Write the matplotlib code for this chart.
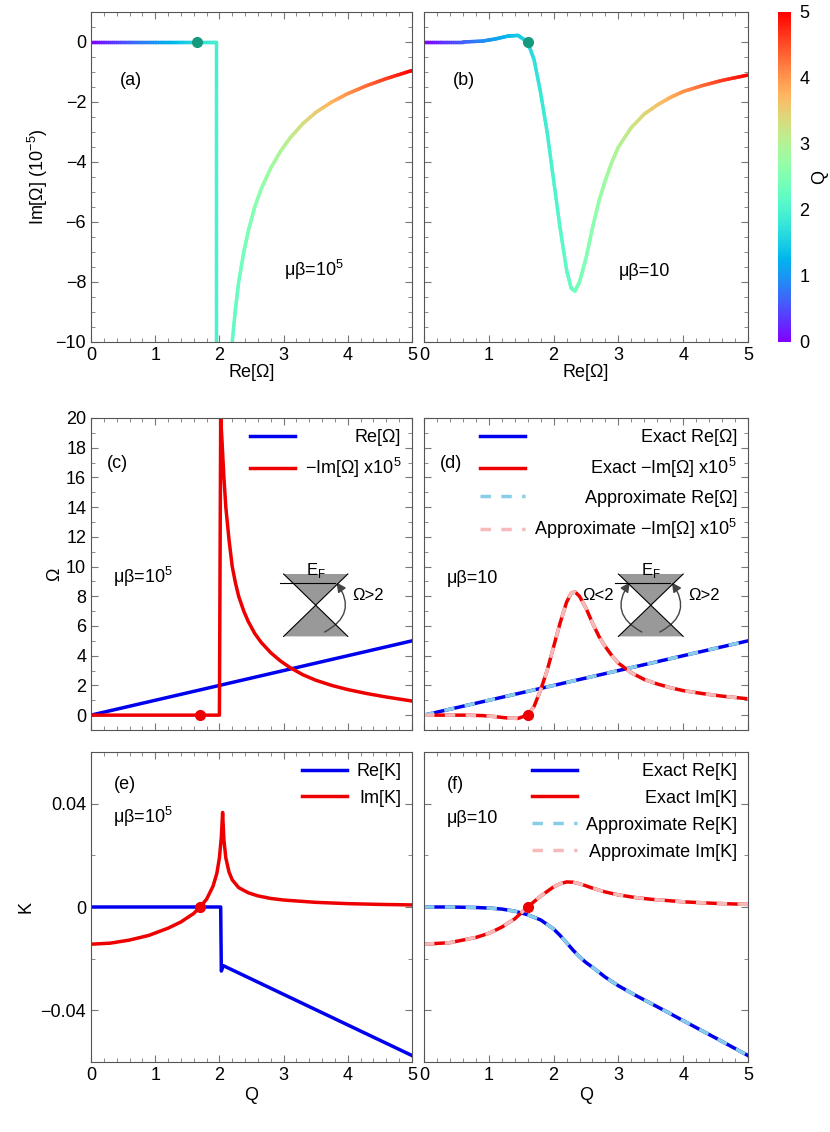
import numpy as np
import matplotlib.pyplot as plt
from matplotlib.collections import LineCollection
from matplotlib.patches import Polygon, FancyArrowPatch
from matplotlib.ticker import MultipleLocator

plt.rcParams['font.family'] = 'Liberation Sans'
plt.rcParams['font.size'] = 13
plt.rcParams['mathtext.fontset'] = 'custom'
plt.rcParams['mathtext.rm'] = 'Liberation Sans'

# panel (a): mu*beta = 1e5, Im[Omega] (1e-5) vs Re[Omega], coloured by Q
q_a = [0, 0.3, 0.6, 0.9, 1.2, 1.5, 1.8, 1.95, 1.96, 1.97]
re_a = [0, 0.3, 0.6, 0.9, 1.2, 1.5, 1.8, 1.95, 1.95, 1.95]
im_a = [0, 0, 0, 0, 0, 0, 0, 0, -5, -10]
q_a2 = [2.2, 2.25, 2.3, 2.38, 2.45, 2.55, 2.65, 2.8, 2.95, 3.1, 3.3, 3.5, 3.75, 4.0, 4.3, 4.6, 5.0]
re_a2 = q_a2
im_a2 = [-10, -8.9, -8.0, -7.0, -6.3, -5.5, -4.9, -4.2, -3.65, -3.2, -2.72, -2.35, -2.0, -1.72, -1.45, -1.22, -0.95]

# panel (b): mu*beta = 10
q_b = [0, 0.3, 0.6, 0.9, 1.1, 1.3, 1.45, 1.6, 1.7, 1.8, 1.9, 2.0, 2.1, 2.2, 2.27, 2.33, 2.4, 2.5, 2.6, 2.7, 2.8, 2.9, 3.0,
       3.2, 3.4, 3.6, 3.8, 4.0, 4.3, 4.6, 5.0]
im_b = [0, 0, 0, 0.03, 0.1, 0.2, 0.22, 0, -0.6, -1.7, -3.0, -4.6, -6.2, -7.6, -8.2, -8.3, -8.0, -7.2, -6.2, -5.3, -4.6,
        -4.0, -3.5, -2.85, -2.4, -2.1, -1.85, -1.65, -1.45, -1.28, -1.1]

# panel (c)
q_c = [0, 1, 2, 3, 4, 5]
re_c = [0, 1, 2, 3, 4, 5]
q_cim = [0, 0.5, 1.0, 1.5, 2.0, 2.02, 2.04, 2.07, 2.1, 2.15, 2.2, 2.25, 2.3, 2.38, 2.45, 2.55, 2.65, 2.8, 2.95, 3.1, 3.3,
         3.5, 3.75, 4.0, 4.3, 4.6, 5.0]
mim_c = [0, 0, 0, 0, 0, 20, 18.5, 16, 14, 11.8, 10, 8.9, 8.0, 7.0, 6.3, 5.5, 4.9, 4.2, 3.65, 3.2, 2.72, 2.35, 2.0, 1.72,
         1.45, 1.22, 0.95]

# panel (d)
mim_d = [-v for v in im_b]

# panel (e)
q_eim = [0, 0.3, 0.6, 0.9, 1.2, 1.4, 1.6, 1.7, 1.8, 1.9, 1.96, 2.0, 2.03, 2.05, 2.07, 2.1, 2.15, 2.2, 2.3, 2.45, 2.6, 2.8,
         3.0, 3.5, 4.0, 4.5, 5.0]
imk_e = [-0.0144, -0.014, -0.0128, -0.011, -0.0082, -0.0058, -0.0025, 0, 0.003, 0.008, 0.013, 0.019, 0.027, 0.0366,
         0.026, 0.019, 0.0135, 0.0105, 0.0075, 0.0055, 0.0043, 0.0033, 0.0027, 0.0018, 0.0013, 0.001, 0.0008]
q_ere = [0, 1.0, 2.02, 2.03, 2.06, 5.0]
rek_e = [0, 0, 0, -0.0248, -0.0227, -0.0575]

# panel (f)
q_f = [0, 0.4, 0.8, 1.0, 1.2, 1.4, 1.6, 1.8, 2.0, 2.1, 2.2, 2.3, 2.4, 2.5, 2.6, 2.8, 3.0, 3.25, 3.5, 3.75, 4.0, 4.5, 5.0]
rek_f = [0, 0, -0.0002, -0.0004, -0.0008, -0.0016, -0.003, -0.005, -0.0085, -0.011, -0.0138, -0.0167, -0.0193, -0.0215,
         -0.0233, -0.0272, -0.0305, -0.034, -0.0373, -0.0406, -0.044, -0.0507, -0.0575]
imk_f = [-0.0144, -0.0138, -0.0118, -0.0102, -0.0078, -0.0046, 0, 0.0042, 0.0078, 0.009, 0.0097, 0.0096, 0.009, 0.0082,
         0.0073, 0.0058, 0.0047, 0.0037, 0.003, 0.0025, 0.002, 0.0014, 0.001]

cmap = plt.get_cmap('rainbow')
norm = plt.Normalize(0, 5)

fig = plt.figure(figsize=(8.3, 11.32), dpi=100)
W, H = 830, 1132
def ax_at(x0, y0, x1, y1):
    return fig.add_axes([x0 / W, 1 - y1 / H, (x1 - x0) / W, (y1 - y0) / H])

axa = ax_at(91, 12, 412, 342)
axb = ax_at(424, 12, 748, 342)
cax = ax_at(778, 12, 791, 342)
axc = ax_at(91, 418, 412, 730)
axd = ax_at(424, 418, 748, 730)
axe = ax_at(91, 752, 412, 1062)
axf = ax_at(424, 752, 748, 1062)

def colored(ax, x, y, q):
    pts = np.column_stack([x, y])
    segs = np.stack([pts[:-1], pts[1:]], axis=1)
    # split each segment so the colour changes smoothly along it
    sub = []
    cols = []
    for (p0, p1), q0, q1 in zip(segs, q[:-1], q[1:]):
        for t in np.linspace(0, 1, 11)[:-1]:
            a = p0 + (p1 - p0) * t
            b = p0 + (p1 - p0) * (t + 0.1)
            sub.append([a, b])
            cols.append(q0 + (q1 - q0) * (t + 0.05))
    lc = LineCollection(sub, cmap=cmap, norm=norm, linewidth=2.5, capstyle='round')
    lc.set_array(np.array(cols))
    ax.add_collection(lc)

colored(axa, re_a, im_a, q_a)
colored(axa, re_a2, im_a2, q_a2)
axa.plot([1.65], [0], 'o', color='#159a7e', ms=7)
colored(axb, q_b, im_b, q_b)
axb.plot([1.6], [0], 'o', color='#159a7e', ms=7)
for ax, lab, mb in [(axa, '(a)', 'μβ=10$^5$'), (axb, '(b)', 'μβ=10')]:
    ax.set_xlim(0, 5)
    ax.set_ylim(-10, 1)
    ax.set_xticks(range(6))
    ax.set_yticks(range(-10, 1, 2))
    ax.yaxis.set_minor_locator(MultipleLocator(0.5))
    ax.set_xlabel('Re[Ω]', labelpad=0)
    ax.text(0.09, 0.78, lab, transform=ax.transAxes)
    ax.text(0.6, 0.2, mb, transform=ax.transAxes)
axa.set_ylabel('Im[Ω] (10$^{-5}$)')
axb.set_yticklabels([])
sm = plt.cm.ScalarMappable(cmap=cmap, norm=norm)
cb = fig.colorbar(sm, cax=cax)
cb.set_label('Q', labelpad=1)
cb.outline.set_linewidth(0)
cax.tick_params(length=0, pad=6)

def cone(ax, x0, y0, arrows):
    tr = ax.transAxes
    w, h = 0.1, 0.1
    ax.add_patch(Polygon([[x0 - w, y0 + h], [x0 + w, y0 + h], [x0, y0]], closed=True, transform=tr, color='#999999', lw=0))
    ax.add_patch(Polygon([[x0 - w, y0 - h], [x0 + w, y0 - h], [x0, y0]], closed=True, transform=tr, color='#999999', lw=0))
    ax.plot([x0 - w, x0 + w], [y0 + h, y0 - h], color='k', lw=0.8, transform=tr)
    ax.plot([x0 + w, x0 - w], [y0 + h, y0 - h], color='k', lw=0.8, transform=tr)
    ax.plot([x0 - 0.11, x0 + 0.06], [y0 + 0.072, y0 + 0.072], color='k', lw=0.8, transform=tr)
    ax.text(x0, y0 + 0.08, 'E$_\\mathrm{F}$', transform=tr, ha='center', va='bottom', fontsize=12)
    for side in arrows:
        s = 1 if side == 'r' else -1
        ax.add_patch(FancyArrowPatch((x0 + s * 0.02, y0 - 0.09), (x0 + s * 0.06, y0 + 0.08), transform=tr,
                                     connectionstyle='arc3,rad=%.2f' % (0.6 * s), arrowstyle='-|>',
                                     mutation_scale=14, color='#444444', lw=1))
        ax.text(x0 + s * 0.115, y0 + 0.03, 'Ω>2' if side == 'r' else 'Ω<2', transform=tr,
                ha='left' if side == 'r' else 'right', va='center', fontsize=12)

def right_legend(ax):
    leg = ax.legend(loc='upper right', frameon=False, handlelength=2.5, borderaxespad=0.2, labelspacing=0.55,
                    handletextpad=0.5)
    fig.canvas.draw()
    ws = [t.get_window_extent().width for t in leg.get_texts()]
    mw = max(ws)
    for t, w in zip(leg.get_texts(), ws):
        t.set_position((mw - w, 0))

axc.plot(q_c, re_c, color='#0000ee', lw=2.5, label='Re[Ω]')
axc.plot(q_cim, mim_c, color='#ee0000', lw=2.5, label='−Im[Ω] x10$^5$')
axc.plot([1.7], [0], 'o', color='#ee0000', ms=7)
cone(axc, 0.7, 0.4, ['r'])
axd.plot(q_c, re_c, color='#0000ee', lw=2.5, label='Exact Re[Ω]')
axd.plot(q_b, mim_d, color='#ee0000', lw=2.5, label='Exact −Im[Ω] x10$^5$')
axd.plot(q_c, re_c, color='#87cde8', lw=2.5, ls=(0, (3, 3)), label='Approximate Re[Ω]')
axd.plot(q_b, mim_d, color='#f6baba', lw=2.5, ls=(0, (3, 3)), label='Approximate −Im[Ω] x10$^5$')
axd.plot([1.6], [0], 'o', color='#ee0000', ms=7)
cone(axd, 0.7, 0.4, ['l', 'r'])
for ax, lab, mb in [(axc, '(c)', 'μβ=10$^5$'), (axd, '(d)', 'μβ=10')]:
    ax.set_xlim(0, 5)
    ax.set_ylim(-1, 20)
    ax.set_xticks(range(6))
    ax.set_xticklabels([])
    ax.set_yticks(range(0, 21, 2))
    ax.yaxis.set_minor_locator(MultipleLocator(1))
    ax.text(0.05, 0.84, lab, transform=ax.transAxes)
    ax.text(0.07, 0.47, mb, transform=ax.transAxes)
axc.set_ylabel('Ω', labelpad=2)
axd.set_yticklabels([])

axe.plot(q_ere, rek_e, color='#0000ee', lw=2.5, label='Re[K]')
axe.plot(q_eim, imk_e, color='#ee0000', lw=2.5, label='Im[K]')
axe.plot([1.7], [0], 'o', color='#ee0000', ms=7)
axf.plot(q_f, rek_f, color='#0000ee', lw=2.5, label='Exact Re[K]')
axf.plot(q_f, imk_f, color='#ee0000', lw=2.5, label='Exact Im[K]')
axf.plot(q_f, rek_f, color='#87cde8', lw=2.5, ls=(0, (3, 3)), label='Approximate Re[K]')
axf.plot(q_f, imk_f, color='#f6baba', lw=2.5, ls=(0, (3, 3)), label='Approximate Im[K]')
axf.plot([1.6], [0], 'o', color='#ee0000', ms=7)
for ax, lab, mb in [(axe, '(e)', 'μβ=10$^5$'), (axf, '(f)', 'μβ=10')]:
    ax.set_xlim(0, 5)
    ax.set_ylim(-0.06, 0.06)
    ax.set_xticks(range(6))
    ax.set_yticks([-0.04, 0, 0.04])
    ax.yaxis.set_minor_locator(MultipleLocator(0.02))
    ax.set_xlabel('Q', labelpad=2)
    ax.text(0.07, 0.88, lab, transform=ax.transAxes)
    ax.text(0.07, 0.77, mb, transform=ax.transAxes)
axe.set_yticklabels(['\u22120.04', '0', '0.04'])
axe.set_ylabel('K')
axf.set_yticklabels([])

for ax in [axa, axb, axc, axd, axe, axf]:
    ax.xaxis.set_minor_locator(MultipleLocator(0.2))
    ax.tick_params(which='both', direction='in', top=True, right=True, length=5, color='#777777')
    ax.tick_params(which='minor', length=3)
    for sp in ax.spines.values():
        sp.set_color('#555555')

for ax in [axc, axd, axe, axf]:
    right_legend(ax)

fig.savefig('out.png', dpi=100)
